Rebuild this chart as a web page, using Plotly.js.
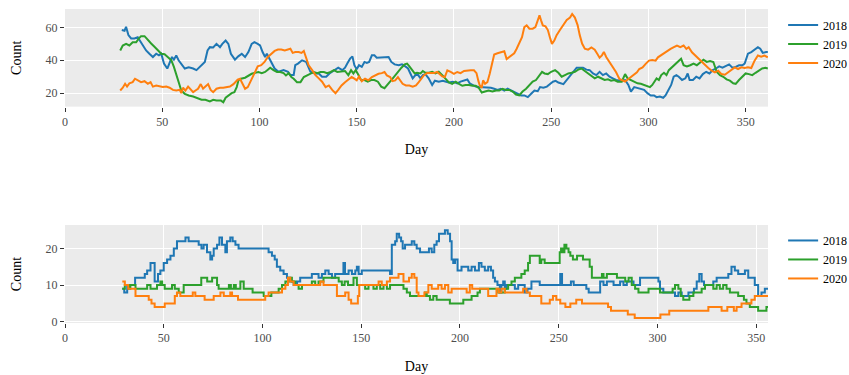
<!DOCTYPE html>
<html>
<head>
<meta charset="utf-8">
<script src="https://cdn.plot.ly/plotly-3.0.1.min.js"></script>
<style>html,body{margin:0;padding:0;background:#fff;}#chart{width:849px;height:375px;}</style>
</head>
<body>
<div id="chart"></div>
<script>
// ---- Data: [day, count] ----
const seriesNames = ["2018", "2019", "2020"];
const seriesColors = ["#1f77b4", "#2ca02c", "#ff7f0e"];
const xTicks = [0, 50, 100, 150, 200, 250, 300, 350];
const topYTicks = [20, 40, 60];
const bottomYTicks = [0, 10, 20];

const top2018 = [[29.2,58.4],[30.6,58],[31.4,60.4],[32.6,55.3],[34,53.3],[35.7,53.3],[37.4,54],[38.8,51.2],[40.5,48.2],[41.7,46],[43.4,44],[45.2,42],[46.9,44],[48.3,43],[49.5,44],[50.9,38],[52.6,35],[53.8,38],[55,42],[56,40.4],[57.2,43],[58.4,40],[59.8,38],[61.6,35],[63.6,35.7],[65.9,35],[67.6,34],[69.8,36.3],[71.9,39],[73.3,46],[74.5,48],[76.2,47.8],[77.9,50],[79.7,48],[80.9,50],[82.6,52],[84,50],[85.3,44],[87.4,40.4],[89.1,42.4],[90.9,44],[92.6,42],[94.3,45],[96,50],[97.4,51],[99.1,50],[100.3,49],[101.6,45],[102.9,42],[103.8,44],[105.5,40],[107.8,35],[109.8,33],[112.4,34],[114.7,33],[115.9,31],[117.6,31],[118.4,37],[119.8,38],[121.9,40],[124,39],[125.3,36],[126.2,33],[128.4,32],[130.5,32],[132.2,30],[134.3,30],[136,32],[138.3,34],[140.5,35.5],[142.6,34],[144,35.5],[145.3,38.4],[146.6,41],[147.8,42.4],[148.8,37],[150,34.5],[151.2,37],[152.6,36],[154,39],[155.2,38.4],[156.4,39],[157.8,43],[159.1,43],[160.3,41.6],[162,41.6],[164.7,42],[166.4,42],[167.8,39],[169.5,37.5],[171.6,37],[173.3,37.5],[175,36.3],[176.4,35],[177.6,32],[178.8,29],[180.2,31],[181.6,31],[182.8,29],[184,31],[185.3,31.6],[187,29],[188.8,25],[190.2,27.6],[192.2,27],[194.3,27.6],[196,27],[197.4,26.5],[199.5,27],[201.7,26],[203.4,27],[205.2,27.6],[206.9,28.3],[208.1,26],[209.5,25],[211.2,24],[212.9,23.7],[214.7,23.7],[217.2,23.7],[219,23.3],[220.7,22.7],[222.4,22],[224.1,22.7],[225.9,21.6],[227.6,22.7],[229.3,21.6],[231,20.6],[232.8,19.2],[234.5,18.6],[236.2,18.6],[238,17.6],[239.7,19.6],[241.4,21.6],[243.1,21.2],[244.3,23.7],[246,23.3],[247.8,24],[249.1,25.3],[250.9,27],[252.3,27.5],[253.7,26.5],[256.3,25.5],[258,28],[259.7,30],[261.4,33],[263.1,35.5],[264.7,35.5],[266.4,35.5],[268.1,34.3],[269.8,34],[271.5,32],[273.2,31],[274.9,33],[276.6,31],[278.3,32],[280,30],[281.7,29],[283.4,28],[285.9,27.6],[288,28],[289.7,25],[291,21],[292.7,23.7],[294.4,23],[296.1,22.4],[297.8,22],[299.5,20],[301.2,18.6],[302.9,18.6],[304.2,17.6],[305.9,18],[307.6,17.2],[308.8,18.6],[310.5,22],[311.7,25],[313,30],[314.4,31],[315.6,30],[317.3,28],[319,29],[320.2,32],[321.2,28],[322.9,28],[324.6,30],[326.3,29],[328,31.6],[329.7,33],[331.4,32],[333.1,34],[334.7,35],[336.4,36.3],[338.1,35.5],[339.8,36.3],[341.5,37.5],[343.2,35.5],[344.9,36],[346.6,37],[348.3,37],[349.5,38],[351.2,44],[352.9,45],[354.6,46.5],[356.3,48],[357.5,47],[358.8,44.5],[360.5,45],[361.4,45]];

const top2019 = [[28.4,46],[29.7,49],[31.4,50],[33.1,49],[34.8,51],[36.6,51],[37.8,53],[39.1,54.7],[40.9,54.7],[42.6,52.2],[44.3,50.2],[46,48.2],[47.8,45.7],[49.5,44],[51.2,43.7],[52.9,42],[54.7,40],[56,36],[57.2,31],[58.4,26.7],[59.8,21.6],[61.6,19.6],[63.6,18.6],[65.9,18],[68.1,17.2],[70.2,16],[72.2,16],[74.5,15],[76.2,16],[77.9,15.5],[80.2,15.5],[81.4,14.5],[82.6,17.2],[84,18.6],[85.7,20],[87.1,20.6],[88.3,23.7],[89.2,27.8],[90.5,28.8],[92.6,29.4],[94.3,30.8],[96,31.8],[97.8,32.4],[99.5,32.9],[101.2,32.2],[102.9,32.9],[104.3,34.3],[105.5,35.5],[107.2,34],[109,32.9],[110.7,32.9],[112.4,32.2],[113.6,30.8],[115,32.2],[116.4,29.8],[117.6,28.8],[119.3,26.7],[121.1,26.7],[122.8,29.8],[124.5,30.8],[126.2,31.8],[128,32.9],[129.7,32.2],[131.4,32.9],[133.1,32.9],[134.8,32.2],[136.6,32.9],[138.3,34],[140,32.9],[142.2,33],[144,33.5],[145.7,31],[147.1,34],[148.3,32],[149.5,34],[150.9,31],[152.2,28],[154,28],[155.7,27],[157.4,28],[159.1,28],[160.9,27],[162.6,24],[164.3,23],[166,25.7],[167.8,28],[169.5,30.4],[171.2,33],[173,35.5],[174.7,37.5],[175.9,38],[177.1,36.3],[178.4,34],[179.8,32],[181,32.4],[182.8,32],[184,33.5],[185.3,32.4],[187.1,32.4],[188.8,33],[190.5,32],[192.2,33],[194,31],[195.7,28.4],[197.4,26.5],[199.1,25.7],[200.9,27],[202.6,25.7],[204.3,24.5],[206,25],[207.8,25],[209.5,24.5],[211.2,24.5],[212.9,23],[214.3,20.4],[216,21],[217.8,21.6],[219.8,21],[221.6,21.6],[223.3,21.6],[225,22.7],[226.7,22],[228.4,22],[230.2,21],[231.9,19.2],[233.6,18.6],[235.3,21],[237.1,22.7],[238.8,25],[240.5,27],[242.2,28],[243.9,30.4],[245.3,33],[246.6,32],[248.3,31.6],[250,33],[252,34],[253.7,32.4],[255.4,30],[257.1,31],[258.8,32],[260.5,32.4],[262.2,33],[263.9,34.3],[265.6,35],[267.3,33.5],[269,32],[270.7,30.4],[272.4,29],[274.1,30],[275.8,29],[277.5,28],[279.2,28.4],[280.8,27.6],[282.5,28],[284.2,27],[286.3,27],[288,31.6],[289.3,29],[291,28],[292.7,27],[294.4,26],[296.1,25.7],[297.8,25],[299.5,24],[300.8,23.7],[302,25],[303.2,27],[304.2,29],[305.4,28],[306.6,31],[308,32.4],[309.3,31],[310.5,34],[312.2,36],[313.9,37.5],[315.6,40],[316.8,41],[318.1,37],[319.8,36.3],[321.5,37],[323.2,38],[324.9,37],[326.6,39],[328.3,40.4],[330,39],[331.7,39.6],[333.4,39],[334.2,36],[335.1,33],[336.8,31],[338.5,30],[340.2,28.4],[341.9,27.6],[343.6,26],[344.9,25.7],[346.6,28],[348.3,30],[350,32],[351.7,31.6],[353.4,31],[355.1,32.4],[356.8,33.5],[358.5,35],[360.2,35.5],[361.4,35]];

const top2020 = [[28.4,21.6],[29.7,23.3],[30.9,25.7],[31.9,24],[33.1,26],[34.8,26.7],[36,28.8],[37.4,27.8],[39.1,26.7],[40.9,27.3],[42.6,25.7],[44,26.7],[45.2,24],[46.9,24.7],[48.6,24],[50.3,23.7],[52.1,24],[53.8,23.3],[55.5,22],[57.2,21.6],[59,22],[59.8,20],[60.7,23.3],[61.9,21.6],[63.3,24],[64.7,22],[65.9,20.6],[67.1,21.6],[68.4,22.7],[69.8,25.5],[71,22.7],[72.2,24],[73.6,25.5],[74.9,22],[76.2,20.6],[77.9,22.7],[79.7,23.3],[81.4,23.3],[83.1,23.7],[84.8,24],[86.6,25.5],[87.8,26.7],[88.8,28.2],[90,28.8],[91.2,25.7],[92.6,22.7],[94,23.7],[95.2,26.7],[96.4,29.8],[97.8,33.5],[99.1,36.3],[100.9,37],[102.6,39],[104.3,42],[106,44],[107.8,45.7],[109.5,46.5],[111.2,46.5],[113,46],[114.7,46.5],[115.9,47],[117.1,44.5],[118.4,45],[120.2,45],[121.6,44.5],[122.8,45.7],[124,41],[125.3,37],[127.1,34],[128.8,31],[130.5,29],[132.2,27],[134,23.7],[135.7,24.7],[137.4,22],[139.1,20],[140.5,22],[142.2,24.7],[144,26.7],[145.7,28.2],[147.4,29.8],[148.8,28.8],[150,27.8],[151.2,30.2],[152.6,27.3],[154.3,28.8],[156,27.8],[157.8,29.8],[159.5,30.8],[161.2,31.8],[162.9,32.2],[164.3,32.9],[165.5,30.8],[167.2,29.8],[168.4,27.3],[169.8,27.8],[171.2,29.8],[172.4,27.8],[173.6,25.7],[175.3,24.7],[177.1,24.7],[178.8,24],[180.5,24.7],[181.9,26.7],[183.3,28.8],[184.5,30.8],[186.2,32.2],[187.9,32.2],[189.7,32.2],[191.4,32.9],[192.6,31.8],[194,30.2],[195.3,29.8],[196.6,33.9],[198.3,32.9],[200,31.8],[201.7,32.9],[203.4,32.2],[205.2,33.5],[206.9,33.9],[208.6,33.9],[210.3,33.9],[211.6,32.2],[212.6,27.3],[213.3,24.7],[214.3,23.3],[215,27.8],[216,25.7],[217.2,26.7],[218.4,31.8],[219.5,38.2],[220.7,43.5],[222.4,44.3],[224.1,44.9],[225.9,45.5],[227.1,40.8],[228.4,41.8],[229.8,42.9],[231,44.3],[232.2,46.9],[233.6,50],[235,54],[236.2,60.2],[237.4,61.2],[238.8,59.2],[240.5,59.2],[241.9,60.2],[243.1,64.3],[244,67.3],[244.8,64.3],[245.7,61.2],[247.1,60.6],[248.3,58.4],[249.5,53.3],[250.4,50],[251.6,52],[252.8,55.3],[254.5,58.4],[256.3,61.4],[258,64.5],[259.7,66],[260.8,68.2],[262.2,66],[263.6,61.4],[264.7,55.3],[265.9,50.2],[267.3,47.1],[269,46.5],[270.7,47.8],[272.4,46.5],[273.7,44],[274.9,41.6],[276.1,43],[277.1,45.1],[278.3,42],[280,38.8],[281.7,35.7],[283.4,32.7],[285.1,28.6],[286.8,27.6],[288,27.1],[289.7,28.6],[291.4,30],[292.7,31.6],[294.1,32.7],[295.3,34.7],[297,35.7],[298.6,37.8],[300.3,39.8],[302,40.2],[303.7,39.8],[304.9,41.8],[306.3,42.9],[308,44.3],[309.7,45.9],[311.4,46.9],[313.1,48],[314.7,49],[316.4,48],[318.1,49],[319.5,46.9],[320.7,48],[322.4,44.9],[324.1,42.9],[325.8,40.8],[327.5,38.8],[329.2,36.7],[330.8,35.3],[332.5,33.7],[334.2,32.7],[335.9,33.7],[337.6,31.6],[339.3,31.2],[341,32.7],[342.7,34.1],[344.4,35.7],[346.1,34.7],[347.8,35.7],[349.5,35.3],[351.2,35.7],[352.9,35.3],[354.6,39.8],[356.3,42.9],[358,42.2],[359.7,42.9],[361.4,41.8]];

const bottom2018 = [[29,9],[30,8],[31.5,10],[35.5,12],[40.4,13],[41.6,14],[43.3,16],[45.4,11],[47.1,13],[48.3,14],[50,16],[51.7,17],[53.4,18],[55.1,20],[56.7,22],[61,23],[62.6,22],[67.7,21],[69.1,20],[70.2,21],[71.9,19],[73.6,17],[74.5,18],[75.3,20],[77,21],[78.2,23],[79.5,21],[81.2,19],[82,22],[83.7,23],[84.9,22],[86.3,21],[87.9,20],[103.1,19],[104.8,18],[106.2,17],[107.3,15],[109,14],[110.7,13],[112.4,12],[114.1,11],[115.8,10],[117.5,11],[119.1,12],[125,13],[128.4,12],[130.1,13],[131.8,14],[133.5,13],[135.2,12],[136.8,13],[141,16],[141.8,13],[143.6,14],[145.3,13],[147,14],[147.8,15],[148.7,13],[150.3,14],[164.6,13],[165.5,21],[167.2,22],[168,24],[169.2,23],[170.2,22],[171,20],[172.2,21],[175.6,22],[176.9,21],[178.1,20],[179.8,19],[184.3,20],[185.7,19],[187,21],[188.2,22],[189.4,24],[192.4,25],[193.8,24],[195,22],[195.8,17],[196.6,16],[197.5,17],[198.8,14],[200.8,15],[204.2,14],[205.9,15],[207.6,14],[209.6,16],[210.9,15],[212.6,14],[214.3,15],[215.7,14],[216.8,12],[217.7,11],[219,10],[220.2,8],[221,10],[221.9,11],[222.7,9],[223.6,10],[227.8,9],[229.5,10],[232.8,8],[234.2,9],[236.2,11],[240.4,10],[250.8,13],[251.7,10],[256.2,11],[257.6,10],[264,9],[265.2,8],[271,11],[272.7,10],[274.4,11],[277.8,10],[281.1,11],[282.8,10],[284.5,11],[287.9,10],[291.2,12],[297.1,12],[300.5,11],[301.3,9],[303,8],[308.9,7],[310.6,8],[312.3,7],[315.7,8],[318.5,9],[319.9,11],[321.2,13],[322.4,11],[323.6,10],[328.3,11],[330,12],[335.9,13],[337.5,15],[339.2,14],[340.9,13],[344.3,14],[346,12],[349.3,10],[351,7],[352.7,8],[354.4,9],[356,9]];

const bottom2019 = [[29,9],[30.3,10],[32.3,9],[33.1,10],[35.7,9],[41.6,10],[43.3,9],[46.6,10],[48.3,11],[49.2,10],[50.5,9],[54.2,10],[55.6,9],[57.6,8],[60.1,10],[69,12],[72,11],[74.5,12],[77,10],[77.8,9],[83,10],[84,9],[85.5,10],[86.5,9],[88.8,11],[90.5,9],[95,8],[100.6,7],[104.5,8],[108.2,9],[109.9,10],[111.6,11],[113.2,12],[114.9,11],[116.6,10],[118.3,9],[120,10],[125,11],[126.7,10],[128.4,11],[130.9,12],[138.6,11],[140.2,10],[141.6,11],[143.3,10],[146.1,12],[147.8,10],[152,9],[153.7,10],[156.2,9],[157.9,10],[159.6,9],[161.3,10],[163,9],[164.6,10],[171.4,9],[173.1,8],[174.7,7],[182.3,8],[183.2,7],[184.8,6],[186.5,7],[188.2,6],[194.9,5],[201.7,6],[205.9,7],[208.9,8],[210.1,9],[219.4,8],[222.7,9],[224.4,10],[226.1,11],[227.8,12],[231.1,13],[232.8,14],[234.5,16],[235.4,18],[240.4,16],[241.2,17],[242.9,16],[250.5,19],[251.2,20],[252.2,19],[252.9,21],[253.9,20],[255,19],[255.9,18],[257.2,17],[259.3,18],[262.3,17],[265.7,15],[266.8,12],[271.9,13],[272.7,12],[274.4,13],[279.5,12],[283.7,11],[285.4,12],[287,10],[288.7,9],[290.4,8],[295.5,9],[301.3,8],[307.7,9],[308.9,10],[310.6,9],[311.8,7],[313.1,6],[316.2,7],[318.2,8],[322.4,9],[324.1,10],[328.3,9],[330,10],[331.6,9],[333.3,10],[335,9],[336.7,8],[340.9,7],[343.8,6],[345.1,5],[346.8,4],[351,3],[355.2,4],[356,4]];

const bottom2020 = [[29,11],[30.3,10],[32,9],[35.7,7],[42.4,6],[43.8,5],[45.4,4],[50.5,5],[55.6,7],[56.7,8],[58.4,7],[64.7,8],[66,7],[70.7,6],[75.3,7],[78.7,8],[80.4,7],[83.7,8],[84.6,7],[87.6,6],[101.4,7],[103.1,8],[109.9,9],[111.6,10],[112.9,12],[114.1,11],[115.8,10],[129.3,11],[130.9,10],[137.7,7],[141.9,8],[143.6,6],[144.9,5],[148.3,7],[149,10],[158.8,11],[160.4,10],[163,11],[164.6,12],[168.9,13],[171.4,11],[174.2,12],[175.6,13],[176.9,12],[178.1,8],[179,7],[182,8],[184,10],[185.7,9],[189,10],[190.7,9],[192.4,10],[194.1,8],[195.8,9],[203.4,8],[205,10],[206.2,9],[214.3,7],[218.5,9],[219.7,8],[221,9],[222.7,8],[232,9],[233.7,8],[235.4,7],[241.2,5],[245.5,6],[247.1,7],[248.8,6],[250.8,5],[253.4,4],[255.9,5],[258.9,6],[261.8,5],[275,4],[276.5,3],[285,2],[288.5,1],[301.5,2],[306,3],[325.8,4],[332.5,3],[335.4,4],[338.7,3],[340.1,4],[342.6,5],[347.6,6],[349.3,7],[356,7]];

const topSeries = [top2018, top2019, top2020];
const bottomSeries = [bottom2018, bottom2019, bottom2020];

const traces = [];
topSeries.forEach((s, i) => {
  traces.push({
    type: 'scatter', mode: 'lines', name: seriesNames[i],
    x: s.map(p => p[0]), y: s.map(p => p[1]),
    xaxis: 'x', yaxis: 'y', legend: 'legend',
    line: {color: seriesColors[i], width: 2}
  });
});
bottomSeries.forEach((s, i) => {
  traces.push({
    type: 'scatter', mode: 'lines', name: seriesNames[i],
    x: s.map(p => p[0]), y: s.map(p => p[1]),
    xaxis: 'x2', yaxis: 'y2', legend: 'legend2',
    line: {color: seriesColors[i], width: 2, shape: 'hv'}
  });
});

const fontFam = '"Liberation Serif", "Times New Roman", "DejaVu Serif", serif';
const axisCommon = {
  ticks: 'outside', ticklen: 4, tickwidth: 1, tickcolor: '#333333',
  showgrid: true, gridcolor: '#FFFFFF', gridwidth: 1,
  zeroline: false, showline: false, automargin: false,
  tickfont: {family: fontFam, size: 12, color: '#4D4D4D'}
};
const xTitle = {text: 'Day', font: {family: fontFam, size: 14, color: '#000'}, standoff: 16};
const yTitle = {text: 'Count', font: {family: fontFam, size: 14, color: '#000'}, standoff: 20};

const layout = {
  width: 849, height: 375,
  margin: {l: 65, r: 81, t: 9, b: 52, autoexpand: false},
  paper_bgcolor: '#FFFFFF', plot_bgcolor: '#EBEBEB',
  font: {family: fontFam, size: 12, color: '#000'},
  showlegend: true,
  xaxis: Object.assign({}, axisCommon, {domain: [0, 1], anchor: 'y', range: [0, 361.5], tickvals: xTicks, title: xTitle}),
  yaxis: Object.assign({}, axisCommon, {domain: [0.689, 1], anchor: 'x', range: [11.8, 71.2], tickvals: topYTicks, title: yTitle}),
  xaxis2: Object.assign({}, axisCommon, {domain: [0, 1], anchor: 'y2', range: [0, 356], tickvals: xTicks, title: xTitle}),
  yaxis2: Object.assign({}, axisCommon, {domain: [0, 0.312], anchor: 'x2', range: [-0.35, 26.4], tickvals: bottomYTicks, title: yTitle}),
  legend: {x: 1.0215, y: 0.995, xanchor: 'left', yanchor: 'top', bgcolor: 'rgba(0,0,0,0)', font: {family: fontFam, size: 12, color: '#000'}},
  legend2: {x: 1.0215, y: 0.309, xanchor: 'left', yanchor: 'top', bgcolor: 'rgba(0,0,0,0)', font: {family: fontFam, size: 12, color: '#000'}}
};

Plotly.newPlot('chart', traces, layout, {displayModeBar: false, staticPlot: true});
</script>
</body>
</html>
